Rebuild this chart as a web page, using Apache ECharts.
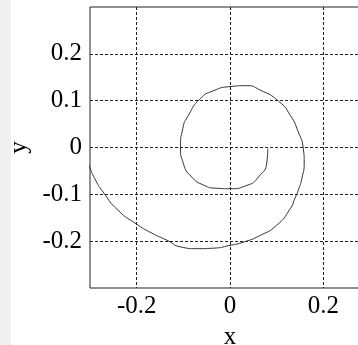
<!DOCTYPE html>
<html>
<head>
<meta charset="utf-8">
<script src="https://cdn.jsdelivr.net/npm/echarts@6/dist/echarts.min.js"></script>
<style>
  html, body { margin: 0; padding: 0; background: #fff; }
  #chart { width: 358px; height: 345px; }
</style>
</head>
<body>
<div id="chart"></div>
<script>
// spiral traced from the inner end outwards (clockwise)
const spiralX = [0.081, 0.079, 0.061, 0.036, 0.0, -0.029, -0.057, -0.082, -0.100, -0.106, -0.101, -0.089, -0.064, -0.036, 0.0, 0.036, 0.064, 0.104, 0.129, 0.146, 0.157, 0.159, 0.154, 0.146, 0.139, 0.129, 0.100, 0.064, 0.029, 0.0, -0.036, -0.071, -0.107, -0.133, -0.169, -0.201, -0.240, -0.272, -0.290, -0.301, -0.310, -0.317]
const spiralY = [-0.002, -0.031, -0.063, -0.081, -0.088, -0.087, -0.080, -0.063, -0.034, 0.0, 0.041, 0.069, 0.104, 0.121, 0.130, 0.132, 0.123, 0.099, 0.069, 0.034, -0.002, -0.031, -0.066, -0.092, -0.109, -0.131, -0.166, -0.188, -0.202, -0.209, -0.215, -0.216, -0.212, -0.199, -0.182, -0.163, -0.134, -0.095, -0.066, -0.041, -0.016, 0.0015]
const xTickValues = [-0.2, 0, 0.2]
const yTickValues = [-0.2, -0.1, 0, 0.1, 0.2]

const chart = echarts.init(document.getElementById('chart'))
const serif = 'Liberation Serif'
const points = spiralX.map((x, i) => [x, spiralY[i]])

const gridDash = { color: '#222', width: 1, type: [3, 2] }

chart.setOption({
  animation: false,
  backgroundColor: '#fff',
  graphic: [
    {
      type: 'rect',
      left: 0,
      top: 0,
      shape: { width: 11, height: 345 },
      style: { fill: '#f0f0f0' },
      z: -1
    }
  ],
  grid: {
    left: 90,
    top: 7,
    bottom: 57,
    right: -12,
    outerBoundsMode: 'none',
    show: true,
    borderColor: '#222',
    borderWidth: 1,
    backgroundColor: '#fff'
  },
  xAxis: {
    type: 'value',
    min: -0.3,
    max: 0.3,
    name: 'x',
    nameLocation: 'middle',
    nameGap: 37,
    nameTextStyle: { fontFamily: serif, fontSize: 25, color: '#000' },
    axisLine: { show: false },
    axisTick: { show: false, customValues: xTickValues },
    axisLabel: {
      customValues: xTickValues,
      margin: 6,
      fontFamily: serif,
      fontSize: 25,
      color: '#000',
      formatter: (v) => String(v)
    },
    splitLine: { show: true, lineStyle: gridDash }
  },
  yAxis: {
    type: 'value',
    min: -0.3,
    max: 0.3,
    name: 'y',
    nameLocation: 'middle',
    nameGap: 58,
    nameTextStyle: { fontFamily: serif, fontSize: 25, color: '#000' },
    axisLine: { show: false },
    axisTick: { show: false, customValues: yTickValues },
    axisLabel: {
      customValues: yTickValues,
      margin: 8,
      fontFamily: serif,
      fontSize: 25,
      color: '#000',
      formatter: (v) => String(v)
    },
    splitLine: { show: true, lineStyle: gridDash }
  },
  series: [
    {
      type: 'line',
      data: points,
      showSymbol: false,
      smooth: 0.6,
      clip: false,
      lineStyle: { color: '#333', width: 1 }
    }
  ]
})
</script>
</body>
</html>
